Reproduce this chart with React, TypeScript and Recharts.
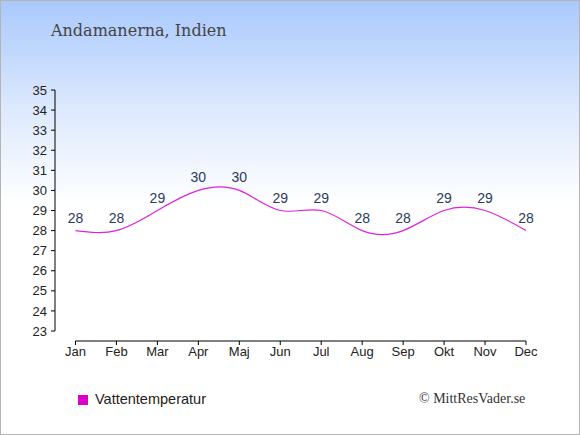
import { LineChart, Line, XAxis, YAxis, LabelList, ReferenceLine } from "recharts"

const months = ["Jan", "Feb", "Mar", "Apr", "Maj", "Jun", "Jul", "Aug", "Sep", "Okt", "Nov", "Dec"]
const waterTemp = [28, 28, 29, 30, 30, 29, 29, 28, 28, 29, 29, 28]
const yTicks = [23, 24, 25, 26, 27, 28, 29, 30, 31, 32, 33, 34, 35]

const data = months.map((m, i) => ({ idx: i, month: m, temp: waterTemp[i] }))

// gap (in y units) between the 23 tick and the x axis line
const axisGap = 10 / (241 / 12)

export default function App() {
  return (
    <div
      style={{
        position: "absolute",
        left: 0,
        top: 0,
        width: 580,
        height: 435,
        boxSizing: "border-box",
        border: "1px solid #b4b4b4",
        background: "linear-gradient(to bottom, #a9c9fd 0%, #dde9fd 25%, #ffffff 47%, #ffffff 100%)",
        overflow: "hidden",
      }}
    >
      <div
        style={{
          position: "absolute",
          left: 50,
          top: 20,
          fontFamily: "'DejaVu Serif', serif",
          fontSize: 16,
          color: "#444",
        }}
      >
        Andamanerna, Indien
      </div>

      <div style={{ position: "absolute", left: -1, top: -1 }}>
        <LineChart
          width={580}
          height={435}
          data={data}
          margin={{ top: 90, right: 54, bottom: 64, left: 0 }}
        >
          <XAxis
            dataKey="idx"
            type="number"
            domain={[-0.5, 11]}
            ticks={data.map((d) => d.idx)}
            tickFormatter={(v: number) => months[v]}
            axisLine={false}
            tickSize={4}
            tickLine={{ stroke: "#000" }}
            tick={{ fill: "#222", fontSize: 13, fontFamily: "'Liberation Sans', Arial, sans-serif" }}
            height={30}
            interval={0}
          />
          <YAxis
            type="number"
            domain={[23, 35]}
            ticks={yTicks}
            padding={{ top: 0, bottom: 10 }}
            axisLine={false}
            tickSize={4}
            tickMargin={4}
            tickLine={{ stroke: "#000" }}
            tick={{ fill: "#222", fontSize: 13, fontFamily: "'Liberation Sans', Arial, sans-serif" }}
            width={55}
            interval={0}
          />
          <ReferenceLine
            segment={[{ x: -0.5, y: 23 }, { x: -0.5, y: 35 }]}
            stroke="#000"
            ifOverflow="visible"
          />
          <ReferenceLine
            segment={[{ x: 0, y: 23 - axisGap }, { x: 11, y: 23 - axisGap }]}
            stroke="#000"
            ifOverflow="visible"
          />
          <Line
            type="natural"
            dataKey="temp"
            stroke="#dd22dd"
            strokeWidth={1.2}
            dot={false}
            isAnimationActive={false}
          >
            <LabelList
              dataKey="temp"
              position="top"
              offset={8}
              fill="#2b3b5b"
              fontSize={14}
              fontFamily="'Liberation Sans', Arial, sans-serif"
            />
          </Line>
        </LineChart>
      </div>

      <div
        style={{
          position: "absolute",
          left: 77,
          top: 394,
          width: 10,
          height: 10,
          background: "#dd00cc",
        }}
      />
      <div
        style={{
          position: "absolute",
          left: 94,
          top: 390,
          fontFamily: "'Liberation Sans', Arial, sans-serif",
          fontSize: 14.5,
          color: "#222",
        }}
      >
        Vattentemperatur
      </div>
      <div
        style={{
          position: "absolute",
          left: 418,
          top: 390,
          fontFamily: "'Liberation Serif', serif",
          fontSize: 14,
          color: "#333",
        }}
      >
        © MittResVader.se
      </div>
    </div>
  )
}
